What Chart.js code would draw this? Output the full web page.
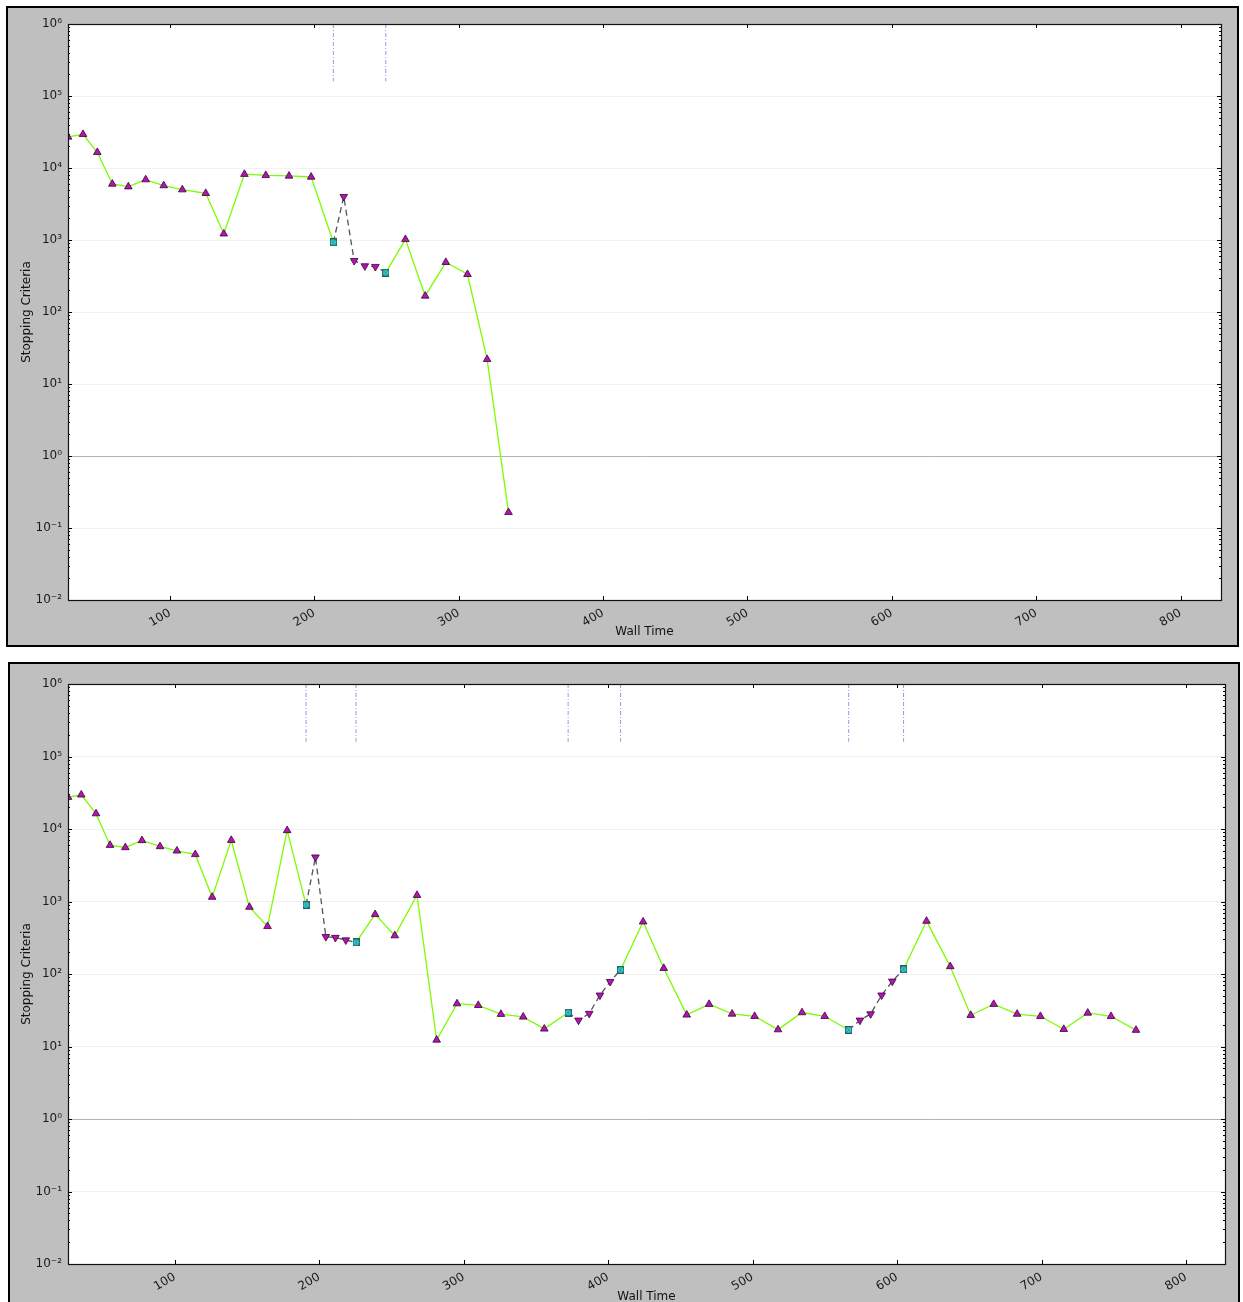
<!DOCTYPE html>
<html><head><meta charset="utf-8">
<script src="https://cdn.jsdelivr.net/npm/chart.js@4.4.1/dist/chart.umd.min.js"></script>
<style>
html,body{margin:0;padding:0;background:#fff;width:1243px;height:1302px;overflow:hidden;}
.panel{position:absolute;background:#bfbfbf;border:2px solid #000;box-sizing:border-box;}
.panel canvas{position:absolute;left:0;top:0;}
</style></head><body>
<div class="panel" style="left:6px;top:6px;width:1233px;height:641px;"><canvas id="c1" width="1229" height="637" style="width:1229px;height:637px"></canvas></div>
<div class="panel" style="left:8px;top:662px;width:1232px;height:650px;"><canvas id="c2" width="1228" height="646" style="width:1228px;height:646px"></canvas></div>
<script>
// ---------- data ----------
const topTime = [29.4, 39.8, 49.7, 60.1, 71.2, 83.2, 95.7, 108.6, 124.8, 137.3, 151.6, 166.4, 182.5, 197.8,
  213.2, 220.4, 227.6, 235.0, 242.3, 249.5, 263.1, 276.8, 291.1, 306.1, 319.7, 334.5];
const topCriteria = [2.7e4, 2.94e4, 1.65e4, 6.0e3, 5.5e3, 6.9e3, 5.7e3, 5.0e3, 4.45e3, 1.22e3, 8.2e3, 7.9e3, 7.75e3, 7.5e3,
  930, 4.0e3, 516, 436, 427, 352, 1020, 167, 490, 334, 22, 0.165];
// u = normal step, d = rejected step, c = checkpoint
const topKind = ['u','u','u','u','u','u','u','u','u','u','u','u','u','u',
  'c','d','d','d','d','c','u','u','u','u','u','u'];

const botTime = [26.1, 35.3, 45.5, 55.2, 65.8, 77.3, 89.8, 101.5, 114.2, 125.9,
  139.1, 151.7, 164.2, 177.8, 190.9, 197.4, 204.6, 211.2, 218.4, 225.5,
  238.7, 252.3, 267.7, 281.3, 295.4, 310.1, 325.8, 341.2, 355.8, 372.3,
  379.5, 386.9, 394.3, 401.4, 408.6, 424.2, 438.5, 454.4, 469.9, 485.8,
  501.4, 517.6, 534.2, 549.9, 566.5, 574.3, 581.7, 589.3, 596.7, 604.5,
  620.4, 636.8, 651.0, 666.9, 683.1, 699.2, 715.4, 732.0, 748.1, 765.4];
const botCriteria = [2.74e4, 2.96e4, 1.63e4, 5.98e3, 5.56e3, 6.95e3, 5.74e3, 5.0e3, 4.46e3, 1.15e3,
  7.0e3, 837, 454, 9.55e3, 900, 4.09e3, 327, 318, 294, 273,
  664, 338, 1.22e3, 12.3, 39, 37, 27.9, 25.6, 17.5, 29.4,
  23, 28.5, 51, 78.5, 114, 525, 120, 27.3, 38.3, 28.1,
  26.1, 17.1, 29.4, 26.1, 16.9, 23, 28.1, 51, 79.4, 116,
  537, 127, 27, 38.3, 28, 26.1, 17.3, 29, 26.1, 16.8];
const botKind = ['u','u','u','u','u','u','u','u','u','u','u','u','u','u',
  'c','d','d','d','d','c',
  'u','u','u','u','u','u','u','u','u',
  'c','d','d','d','d','c',
  'u','u','u','u','u','u','u','u','u',
  'c','d','d','d','d','c',
  'u','u','u','u','u','u','u','u','u','u'];

const xTicks = [100, 200, 300, 400, 500, 600, 700, 800];
const topXRange = [29.4, 828];
const botXRange = [26.1, 827];
const yTicks = [1e-2, 1e-1, 1, 10, 100, 1e3, 1e4, 1e5, 1e6];
const yRange = [1e-2, 1e6];
const tolerance = 1;
const checkpointMarkSpan = [1.6e5, 1e6];
const xTitle = 'Wall Time';
const yTitle = 'Stopping Criteria';

// ---------- styles ----------
const GREEN = '#7cfc00';
const DASH = '#555555';
const MAGENTA = '#b414b4';
const FONT = 'DejaVu Sans';

function hourglass() {
  const c = document.createElement('canvas');
  c.width = 7; c.height = 8;
  const g = c.getContext('2d');
  g.fillStyle = '#30d8d8';
  g.fillRect(0, 0, 7, 8);
  g.fillStyle = '#2a5a5a';
  g.fillRect(0, 0, 7, 1.3);
  g.fillRect(0, 6.7, 7, 1.3);
  g.fillRect(0, 0, 0.8, 8);
  g.fillRect(6.2, 0, 0.8, 8);
  g.strokeStyle = 'rgba(30,80,80,0.6)';
  g.lineWidth = 0.8;
  g.beginPath(); g.moveTo(1.3, 1.3); g.lineTo(5.7, 6.7); g.moveTo(5.7, 1.3); g.lineTo(1.3, 6.7); g.stroke();
  return c;
}
const HG = hourglass();

const SUP = {'-':'⁻','0':'⁰','1':'¹','2':'²','3':'³','4':'⁴','5':'⁵','6':'⁶','7':'⁷','8':'⁸','9':'⁹'};
function supLabel(v) {
  const e = String(Math.round(Math.log10(v)));
  return '10' + e.split('').map(ch => SUP[ch]).join('');
}

const framePlugin = {
  id: 'frame',
  beforeDraw(chart) {
    const a = chart.chartArea, ctx = chart.ctx;
    ctx.save(); ctx.fillStyle = '#ffffff';
    ctx.fillRect(a.left, a.top, a.right - a.left, a.bottom - a.top);
    ctx.restore();
  },
  afterDraw(chart) {
    const a = chart.chartArea, ctx = chart.ctx;
    const xs = chart.scales.x, ys = chart.scales.y;
    ctx.save();
    ctx.strokeStyle = '#000'; ctx.lineWidth = 1;
    ctx.beginPath();
    xTicks.forEach(v => {
      const px = Math.round(xs.getPixelForValue(v)) + 0.5;
      ctx.moveTo(px, a.bottom); ctx.lineTo(px, a.bottom - 4);
      ctx.moveTo(px, a.top); ctx.lineTo(px, a.top + 4);
    });
    for (let e = -2; e <= 6; e++) {
      for (let m = 1; m <= 9; m++) {
        const v = m * Math.pow(10, e);
        if (v > yRange[1] * 1.0001) continue;
        const py = Math.round(ys.getPixelForValue(v)) + 0.5;
        const len = m === 1 ? 4 : 2;
        ctx.moveTo(a.left, py); ctx.lineTo(a.left + len, py);
        ctx.moveTo(a.right, py); ctx.lineTo(a.right - len, py);
      }
    }
    ctx.stroke();
    ctx.lineWidth = 1.2; ctx.strokeStyle = '#111';
    ctx.strokeRect(Math.round(a.left) + 0.5, Math.round(a.top) + 0.5,
      Math.round(a.right - a.left), Math.round(a.bottom - a.top));
    ctx.restore();
  }
};

function makeChart(id, times, values, kinds, xRange, g) {
  const isDash = c => kinds[c.p0DataIndex] === 'd' || kinds[c.p1DataIndex] === 'd';
  const datasets = [];
  times.forEach((t, i) => {
    if (kinds[i] !== 'c') return;
    datasets.push({
      data: [{x: t, y: checkpointMarkSpan[1]}, {x: t, y: checkpointMarkSpan[0]}],
      borderColor: 'rgba(125,125,230,0.8)', borderWidth: 1, borderDash: [4, 2, 1, 2],
      pointRadius: 0, clip: 0, order: 2
    });
  });
  datasets.push({
    data: times.map((t, i) => ({x: t, y: values[i]})),
    borderColor: GREEN, borderWidth: 1.3, tension: 0, clip: 0, order: 1,
    segment: {
      borderColor: c => isDash(c) ? DASH : GREEN,
      borderDash: c => isDash(c) ? [6, 4] : []
    },
    pointStyle: c => kinds[c.dataIndex] === 'c' ? HG : 'triangle',
    pointRotation: c => kinds[c.dataIndex] === 'd' ? 180 : 0,
    pointRadius: 4.4,
    pointBackgroundColor: MAGENTA,
    pointBorderColor: '#3a003a',
    pointBorderWidth: 0.8
  });
  return new Chart(document.getElementById(id), {
    type: 'line',
    data: {datasets},
    plugins: [framePlugin],
    options: {
      responsive: false, maintainAspectRatio: false, animation: false,
      devicePixelRatio: 1,
      layout: {autoPadding: false, padding: {left: 0, top: g.padTop, right: g.padRight, bottom: 0}},
      plugins: {legend: {display: false}, tooltip: {enabled: false}},
      scales: {
        x: {
          type: 'linear', min: xRange[0], max: xRange[1],
          afterBuildTicks: s => { s.ticks = xTicks.map(v => ({value: v})); },
          afterFit: s => { s.height = g.xAxisHeight; },
          grid: {display: false, drawTicks: false},
          border: {display: false},
          ticks: {autoSkip: false, minRotation: 30, maxRotation: 30, padding: 6,
            color: '#1a1a1a', font: {family: FONT, size: 12}},
          title: {display: true, text: xTitle, color: '#111', font: {family: FONT, size: 12},
            padding: {top: 0, bottom: 6}}
        },
        y: {
          type: 'logarithmic', min: yRange[0], max: yRange[1],
          afterBuildTicks: s => { s.ticks = yTicks.map(v => ({value: v})); },
          afterFit: s => { s.width = g.yAxisWidth; },
          grid: {drawTicks: false, lineWidth: 1,
            color: c => (c.tick && Math.abs(c.tick.value - tolerance) < 1e-9) ? '#b4b4b4' : '#f1f1f1'},
          border: {display: false},
          ticks: {autoSkip: false, padding: 6, color: '#1a1a1a', font: {family: FONT, size: 12},
            callback: v => supLabel(v)},
          title: {display: true, text: yTitle, color: '#111', font: {family: FONT, size: 12},
            padding: {top: g.yTitlePad, bottom: 0}}
        }
      }
    }
  });
}

makeChart('c1', topTime, topCriteria, topKind, topXRange,
  {padTop: 16, padRight: 16, yAxisWidth: 60, xAxisHeight: 45, yTitlePad: 12});
makeChart('c2', botTime, botCriteria, botKind, botXRange,
  {padTop: 20, padRight: 13, yAxisWidth: 58, xAxisHeight: 46, yTitlePad: 10});
</script>
</body></html>
